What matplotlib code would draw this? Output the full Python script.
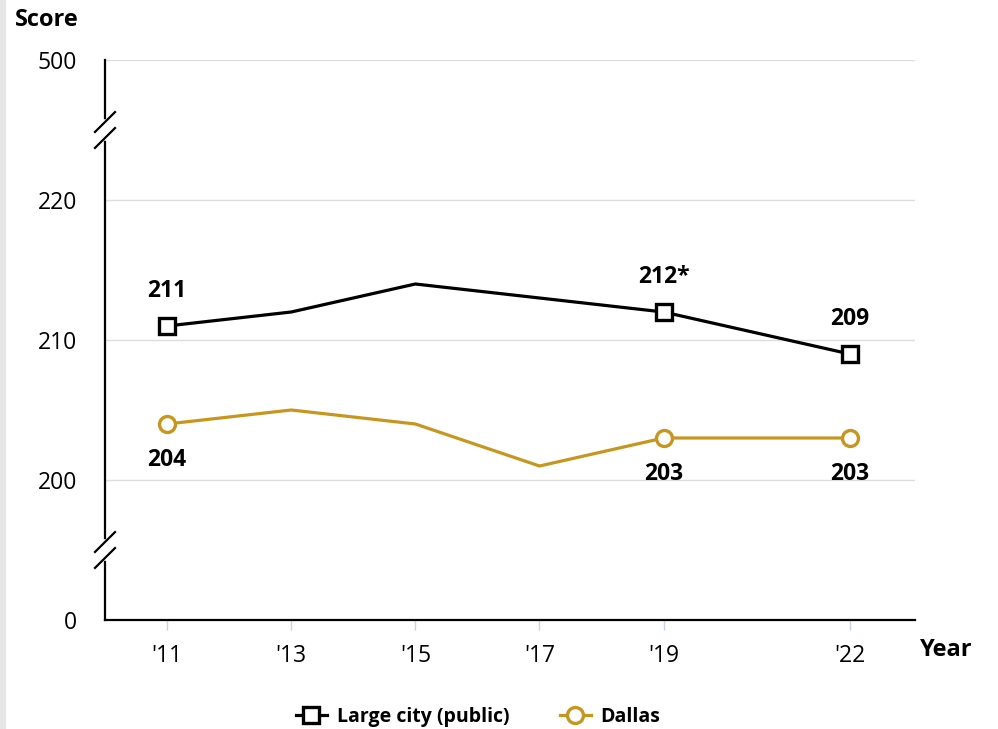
import numpy as np
import matplotlib
matplotlib.use("Agg")
import matplotlib.pyplot as plt
from matplotlib.patches import Rectangle

plt.rcParams['font.family'] = ['Open Sans', 'DejaVu Sans']

years = [2011, 2013, 2015, 2017, 2019, 2022]
year_labels = ["'11", "'13", "'15", "'17", "'19", "'22"]
large_city = [211, 212, 214, 213, 212, 209]
dallas = [204, 205, 204, 201, 203, 203]
marked = [0, 4, 5]
large_city_text = ["211", "212*", "209"]
dallas_text = ["204", "203", "203"]

# broken axis: real scale 200-220, with 0 and 500 mapped just outside
y_ticks = [190, 200, 210, 220, 230]
y_tick_labels = ["0", "200", "210", "220", "500"]

black = "#000000"
gold = "#C8961E"

fig = plt.figure(figsize=(9.98, 7.29), dpi=100)
fig.patches.append(Rectangle((0, 0), 5 / 998, 1, transform=fig.transFigure,
                             color="#e6e6e6", zorder=0))
ax = fig.add_axes([105 / 998, 1 - 620 / 729, 810 / 998, 560 / 729])

ax.set_xlim(2010.0, 2023.05)
ax.set_ylim(190, 230)

for g in y_ticks[1:]:
    ax.axhline(g, color="#dddddd", lw=1, zorder=1)

ax.plot(years, large_city, color=black, lw=2.3, zorder=3)
ax.plot([years[i] for i in marked], [large_city[i] for i in marked], ls="none",
        marker="s", ms=11.5, mfc="white", mec=black, mew=2.4, zorder=4)
ax.plot(years, dallas, color=gold, lw=2.3, zorder=3)
ax.plot([years[i] for i in marked], [dallas[i] for i in marked], ls="none",
        marker="o", ms=11.5, mfc="white", mec=gold, mew=2.4, zorder=4)

for i, t in zip(marked, large_city_text):
    ax.annotate(t, (years[i], large_city[i]), xytext=(0, 25), textcoords="offset points",
                ha="center", va="center", fontsize=16.5, fontweight="bold")
for i, t in zip(marked, dallas_text):
    ax.annotate(t, (years[i], dallas[i]), xytext=(0, -26), textcoords="offset points",
                ha="center", va="center", fontsize=16.5, fontweight="bold")

ax.set_yticks(y_ticks)
ax.set_yticklabels(y_tick_labels, fontsize=16.5)
ax.tick_params(axis="y", length=0, pad=20)
ax.set_xticks(years)
ax.set_xticklabels(year_labels, fontsize=16.5)
ax.tick_params(axis="x", length=7, width=1, color="#c8d3e6", pad=10)

for s in ["top", "right"]:
    ax.spines[s].set_visible(False)
for s in ["left", "bottom"]:
    ax.spines[s].set_linewidth(1.6)
    ax.spines[s].set_color(black)

# axis break marks
tr = ax.get_yaxis_transform()
for yb in [225, 195]:
    ax.plot([0, 0], [yb - 0.57, yb + 0.57], color="white", lw=4, transform=tr,
            clip_on=False, zorder=5)
    for dy in [0.57, -0.57]:
        ax.plot([-10 / 810, 10 / 810], [yb + dy - 0.71, yb + dy + 0.71], color=black,
                lw=1.6, transform=tr, clip_on=False, zorder=6)

fig.text(15 / 998, 1 - 20 / 729, "Score", fontsize=17, fontweight="bold",
         ha="left", va="center")
fig.text(920 / 998, 1 - 650 / 729, "Year", fontsize=17, fontweight="bold",
         ha="left", va="center")

h1, = ax.plot([], [], color=black, lw=2.3, marker="s", ms=11.5, mfc="white", mec=black, mew=2.4)
h2, = ax.plot([], [], color=gold, lw=2.3, marker="o", ms=11.5, mfc="white", mec=gold, mew=2.4)
leg = fig.legend([h1, h2], ["Large city (public)", "Dallas"], loc="center",
                 bbox_to_anchor=(478 / 998, 1 - 717 / 729), ncol=2, frameon=False,
                 handlelength=1.6, columnspacing=2.6, handletextpad=0.5,
                 prop={"size": 14, "weight": "bold"})

fig.savefig("out.png", dpi=100)
